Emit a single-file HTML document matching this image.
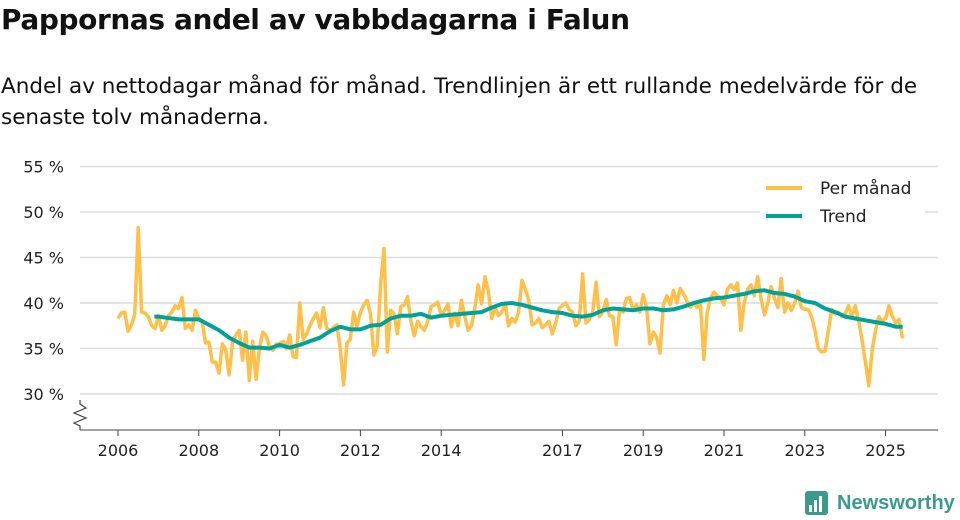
<!DOCTYPE html>
<html><head><meta charset="utf-8"><style>
body{margin:0;background:#fff;font-family:"Liberation Sans","DejaVu Sans",sans-serif;color:#111}
#wrap{position:relative;width:960px;height:520px;overflow:hidden}
h1{position:absolute;left:1px;top:3px;margin:0;font-size:28px;font-weight:bold;font-family:"DejaVu Sans","Liberation Sans",sans-serif;letter-spacing:-0.4px}
p{position:absolute;left:1px;top:71px;margin:0;font-size:21.5px;line-height:31px;font-family:"DejaVu Sans","Liberation Sans",sans-serif;width:955px}
svg{position:absolute;left:0;top:0}
</style></head><body><div id="wrap">
<h1>Pappornas andel av vabbdagarna i Falun</h1>
<p>Andel av nettodagar månad för månad. Trendlinjen är ett rullande medelvärde för de senaste tolv månaderna.</p>
<svg id="chart" width="960" height="520"></svg>
</div>
<script>
const yTicks=[30,35,40,45,50,55];
const xTickYears=[2006,2008,2010,2012,2014,2017,2019,2021,2023,2025];
const startYear=2006;
const monthly=[
38.3,38.9,39.0,36.9,37.6,38.8,48.3,39.0,38.9,38.5,37.5,37.2,
38.6,37.0,37.5,38.6,39.0,39.7,39.4,40.6,37.2,37.6,37.0,39.2,
38.3,37.9,35.6,35.7,33.5,33.5,32.3,35.5,34.8,32.1,35.6,36.5,
37.0,33.7,36.8,31.5,35.8,31.6,35.0,36.8,36.4,35.2,34.8,35.5,
35.5,35.8,35.0,36.5,34.1,34.0,40.0,36.0,36.6,37.5,38.3,38.9,
37.3,39.5,37.2,37.0,37.3,37.6,35.0,31.0,35.6,36.0,39.0,37.4,
39.0,39.8,40.3,38.8,34.3,35.3,42.0,46.0,34.6,39.2,38.8,36.6,
39.6,39.8,40.7,38.0,36.4,38.0,37.4,37.0,38.0,39.6,39.8,40.1,
38.6,39.2,39.9,37.4,38.9,37.5,40.3,38.5,37.0,37.5,39.5,42.0,
39.9,42.9,41.3,38.3,39.5,38.6,39.0,40.0,37.5,38.3,37.9,39.0,
42.5,41.5,40.3,37.6,37.8,38.3,37.3,37.6,38.0,36.6,37.8,39.4,
39.7,40.0,39.3,39.0,37.5,38.0,43.2,37.8,38.2,39.0,42.3,38.5,
39.0,40.4,38.6,38.5,35.4,39.3,39.0,40.5,40.6,39.2,39.8,39.0,
40.9,39.5,35.5,36.8,36.2,34.5,39.8,40.8,39.8,41.4,40.0,41.6,
41.0,40.2,39.5,40.0,39.5,40.0,33.8,39.0,40.5,41.2,40.8,40.5,
39.8,41.5,42.0,41.5,42.2,37.0,40.0,41.5,42.0,40.8,42.9,40.5,
38.7,40.0,41.8,40.5,39.5,42.7,39.0,40.0,39.2,40.0,41.3,39.5,
39.3,39.3,38.5,37.0,35.0,34.6,34.7,37.0,39.3,38.8,39.0,38.5,
38.8,39.7,38.5,39.7,38.0,36.0,33.5,30.9,34.8,37.0,38.5,38.0,
38.3,39.7,38.5,37.8,38.2,36.1];
const trendDates=[2006.9,2007.0,2007.5,2008.0,2008.25,2008.5,2008.75,2009.0,2009.25,2009.5,2009.75,2010.0,2010.25,2010.5,2010.75,2011.0,2011.25,2011.5,2011.75,2012.0,2012.25,2012.5,2012.75,2013.0,2013.25,2013.5,2013.75,2014.0,2014.25,2014.5,2014.75,2015.0,2015.25,2015.5,2015.75,2016.0,2016.25,2016.5,2016.75,2017.0,2017.25,2017.5,2017.75,2018.0,2018.25,2018.5,2018.75,2019.0,2019.25,2019.5,2019.75,2020.0,2020.25,2020.5,2020.75,2021.0,2021.25,2021.5,2021.75,2022.0,2022.25,2022.5,2022.75,2023.0,2023.25,2023.5,2023.75,2024.0,2024.25,2024.5,2024.75,2025.0,2025.25,2025.42];
const trendValues=[38.5,38.5,38.2,38.2,37.6,37.0,36.2,35.6,35.1,35.1,35.0,35.4,35.1,35.4,35.8,36.2,36.9,37.4,37.1,37.1,37.5,37.6,38.3,38.6,38.6,38.8,38.4,38.6,38.7,38.8,38.9,39.0,39.5,39.9,40.0,39.8,39.5,39.2,39.0,38.9,38.6,38.5,38.7,39.2,39.4,39.3,39.2,39.4,39.4,39.2,39.3,39.6,40.0,40.3,40.5,40.6,40.8,41.0,41.3,41.4,41.1,41.0,40.7,40.2,40.0,39.4,39.0,38.5,38.3,38.1,37.9,37.7,37.4,37.4];

const NS='http://www.w3.org/2000/svg';
const svg=document.getElementById('chart');
const X=y=>118+(y-2006)*40.4;
const Y=v=>303-(v-40)*9.1;
function mk(t,a){const e=document.createElementNS(NS,t);for(const k in a)e.setAttribute(k,a[k]);svg.appendChild(e);return e;}
yTicks.forEach(v=>{
 const l=mk('line',{x1:80,x2:938,y1:Y(v),y2:Y(v),stroke:'#dcdcdc','stroke-width':1.5});
 
 
 const t=mk('text',{x:64,y:Y(v)+6,'text-anchor':'end','font-size':16,fill:'#222','font-family':'DejaVu Sans, Liberation Sans, sans-serif'});
 t.textContent=v+' %';
 
 
});
const ax=mk('line',{x1:80,x2:938,y1:430,y2:430,stroke:'#444','stroke-width':1});


const zz=mk('polyline',{points:'80,400 80,404 86,408 74,413 86,418 74,423 80,426 80,430',fill:'none',stroke:'#444','stroke-width':1.2});


xTickYears.forEach(yr=>{
 const tk=mk('line',{x1:X(yr),x2:X(yr),y1:430,y2:436,stroke:'#444'});
 
 
 const t=mk('text',{x:X(yr),y:456,'text-anchor':'middle','font-size':16,fill:'#222','font-family':'DejaVu Sans, Liberation Sans, sans-serif'});
 t.textContent=yr;
 
 
});
const mp=monthly.map((v,i)=>X(startYear+i/12).toFixed(1)+','+Y(v).toFixed(1)).join(' ');
const ml=mk('polyline',{points:mp,fill:'none',stroke:'#ffc04a','stroke-width':3.5,'stroke-linejoin':'round'});


const tp=trendDates.map((d,i)=>X(d).toFixed(1)+','+Y(trendValues[i]).toFixed(1)).join(' ');
const tl=mk('polyline',{points:tp,fill:'none',stroke:'#00a19a','stroke-width':4,'stroke-linejoin':'round'});


[['Per månad','#ffc04a',188],['Trend','#00a19a',216]].forEach(([n,c,y])=>{
 const bg=mk('rect',{x:760,y:y-14,width:165,height:26,fill:'#fff'});
 
 
 const l=mk('line',{x1:766,x2:802,y1:y,y2:y,stroke:c,'stroke-width':4});
 
 
 const t=mk('text',{x:820,y:y+6,'font-size':17,fill:'#222','font-family':'DejaVu Sans, Liberation Sans, sans-serif'});
 t.textContent=n;
 
 
});
const g=mk('g',{});


const r=document.createElementNS(NS,'rect');
[['x',805],['y',491],['width',23],['height',24],['rx',3],['fill','#3a9a8c']].forEach(([k,v])=>r.setAttribute(k,v));
g.appendChild(r);
[[809,505],[814,500],[819,496]].forEach(([x,y])=>{const b=document.createElementNS(NS,'rect');b.setAttribute('x',x);b.setAttribute('y',y);b.setAttribute('width',3);b.setAttribute('height',512-y);b.setAttribute('fill','#fff');g.appendChild(b);});
const lt=document.createElementNS(NS,'text');
lt.setAttribute('x',837);lt.setAttribute('y',509);lt.setAttribute('font-size',20);lt.setAttribute('font-weight','bold');lt.setAttribute('fill','#3a9a8c');lt.setAttribute('font-family','Liberation Sans, sans-serif');
lt.textContent='Newsworthy';
g.appendChild(lt);
</script></body></html>
